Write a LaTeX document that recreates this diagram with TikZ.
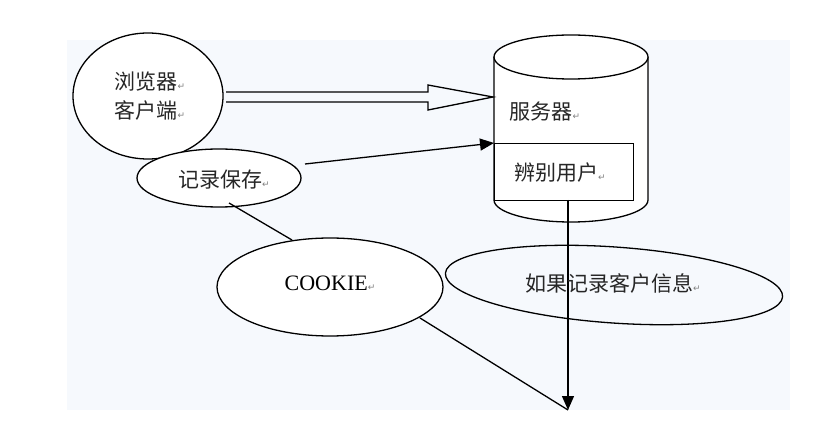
\documentclass[tikz,border=0pt]{standalone}
\usepackage{fontspec}
\setmainfont{Liberation Serif}
\newfontfamily\cjk{Noto Sans CJK SC}
\newfontfamily\sym{DejaVu Sans}
\usetikzlibrary{shapes.geometric,arrows.meta}
\definecolor{panel}{HTML}{F6F9FD}
\newcommand{\rmk}{{\sym\fontsize{9}{9}\selectfont\color{gray}↵}}
\begin{document}
\begin{tikzpicture}[x=1pt,y=-1pt,
  oval/.style={draw,ellipse,line width=1.3pt,fill=white},
  lbl/.style={font=\cjk\fontsize{21}{25}\selectfont,text=black!85},
  ln/.style={line width=1.3pt},
  tip/.style={-{Triangle[length=14pt,width=12pt]}}]
\useasboundingbox (0,0) rectangle (835,427);
\fill[white] (0,0) rectangle (835,427);
\fill[panel] (67,40) rectangle (790,410);
% cylinder
\draw[ln,fill=white] (494,57) -- (494,200) arc[start angle=180,end angle=0,x radius=77,y radius=22] -- (648,57);
\draw[ln,fill=white] (571,57) ellipse[x radius=77,y radius=22];
\node[ln,draw,minimum width=139pt,minimum height=57pt,anchor=north west,inner sep=0pt] (id) at (494,143) {};
\node[lbl] (srv) at (545,112) {服务器\rmk};
\node[lbl] at (560,173) {辨别用户\rmk};
\coordinate (srvL) at (493,97);
\coordinate (srvR) at (494,143);
% browser
\node[oval,minimum width=150pt,minimum height=126pt] (br) at (148,96) {};
\node[lbl,align=center] at (150,96) {浏览器\rmk\\[4pt]客户端\rmk};
% hollow arrow
\draw[ln] (226,92) -- (428,92) -- (428,85) -- (srvL) -- (428,110) -- (428,102) -- (226,102);
% record ellipse
\node[oval,minimum width=164pt,minimum height=58pt] (rec) at (219,178) {};
\node[lbl] at (224,180) {记录保存\rmk};
\draw[ln,tip] (305,164) -- (srvR);
% cookie
\coordinate (c1) at (229,203);
\coordinate (c2) at (292,240);
\draw[ln] (c1) -- (c2);
\coordinate (bot) at (568,410);
\draw[ln,tip] (568,200) -- (bot);
\node[oval,fill=none,minimum width=338pt,minimum height=76pt,rotate=-4] (info) at (614,285) {};
\node[lbl] at (613,283) {如果记录客户信息\rmk};
\node[oval,minimum width=226pt,minimum height=98pt] (ck) at (330,287) {};
\node[font=\fontsize{22}{24}\selectfont] at (330,283) {COOKIE\rmk};
\coordinate (c3) at (420,318);
\draw[ln] (c3) -- (bot);
\end{tikzpicture}
\end{document}
